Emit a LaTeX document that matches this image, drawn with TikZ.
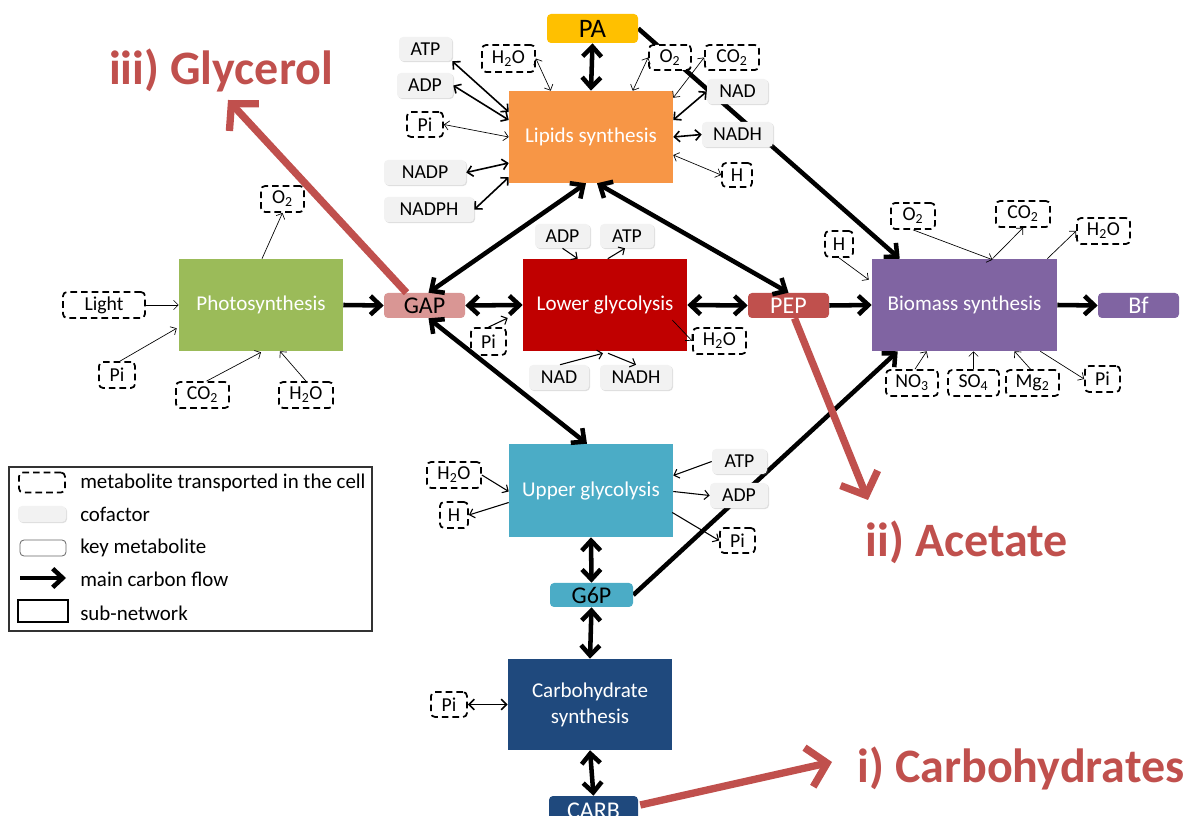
\documentclass[tikz,border=0pt]{standalone}
\usepackage{fontspec}
\setmainfont{Carlito}
\usetikzlibrary{arrows.meta,calc,shadows,backgrounds}
\definecolor{cPA}{HTML}{FFC000}
\definecolor{cLip}{HTML}{F79646}
\definecolor{cPho}{HTML}{9BBB59}
\definecolor{cGAP}{HTML}{D99694}
\definecolor{cLow}{HTML}{C00000}
\definecolor{cPEP}{HTML}{C0504D}
\definecolor{cBio}{HTML}{8064A2}
\definecolor{cUpp}{HTML}{4BACC6}
\definecolor{cCarb}{HTML}{1F497D}
\definecolor{cCof}{HTML}{F2F2F2}
\definecolor{cRed}{HTML}{C0504D}
\tikzset{
  sz/.style 2 args={minimum width=#1*0.75pt, minimum height=#2*0.75pt},
  subnet/.style={inner sep=0pt, text=white, font=\fontsize{15.8}{19.5}\selectfont, align=center},
  keym/.style={rounded corners=3pt, inner sep=0pt, font=\fontsize{18}{20}\selectfont},
  cof/.style={rounded corners=3pt, fill=cCof, inner sep=0pt, font=\fontsize{14.8}{16}\selectfont,
    drop shadow={shadow xshift=0.8pt, shadow yshift=-0.8pt, opacity=0.25}},
  met/.style={rounded corners=3pt, draw=black, line width=1.3pt, dash pattern=on 5pt off 3pt,
    fill=white, inner sep=0pt, font=\fontsize{14.8}{16}\selectfont},
  flowtip/.tip={Straight Barb[length=7.5pt,width=14pt]},
  flow/.style={line width=3.4pt, -flowtip},
  flowd/.style={line width=3.4pt, flowtip-flowtip},
  midtip/.tip={Straight Barb[length=4pt,width=8pt]},
  midarr/.style={line width=1.2pt, -midtip},
  midd/.style={line width=1.2pt, midtip-midtip},
  thintip/.tip={Straight Barb[length=3.5pt,width=7pt]},
  thinarr/.style={line width=0.5pt, -thintip},
  thind/.style={line width=0.5pt, thintip-thintip},
  redarr/.style={line width=5.5pt, draw=cRed, -{Straight Barb[length=14pt,width=30pt]}},
  redlab/.style={text=cRed, font=\fontsize{36}{40}\selectfont\bfseries},
  legtext/.style={anchor=west, font=\fontsize{15.7}{17}\selectfont, inner sep=0pt},
}
\begin{document}
\begin{tikzpicture}[x=0.75pt,y=-0.75pt]
\useasboundingbox (0,0) rectangle (1197,816);
% sub-networks
\node[subnet, sz={164}{92}, fill=cLip] (lip) at (591,137) {Lipids synthesis};
\node[subnet, sz={164}{92}, fill=cPho] (pho) at (261,305) {Photosynthesis};
\node[subnet, sz={164}{92}, fill=cLow] (low) at (605,305) {Lower glycolysis};
\node[subnet, sz={185}{92}, fill=cBio] (bio) at (964.5,305) {Biomass synthesis};
\node[subnet, sz={164}{93}, fill=cUpp] (upp) at (591,490.5) {Upper glycolysis};
\node[subnet, sz={164}{91}, fill=cCarb] (carb) at (590,704.5) {Carbohydrate\\synthesis};
% key metabolites
\node[keym, sz={91}{29}, fill=cPA, font=\fontsize{20}{22}\selectfont] (pa) at (592.5,28.5) {PA};
\node[keym, sz={81}{25}, fill=cGAP] (gap) at (424.5,305.5) {GAP};
\node[keym, sz={81}{25}, fill=cPEP, text=white] (pep) at (788.5,305.5) {PEP};
\node[keym, sz={81}{25}, fill=cBio, text=white] (bf) at (1138.5,305.5) {Bf};
\node[keym, sz={83}{24}, fill=cUpp] (g6p) at (591.5,595) {G6P};
\node[keym, sz={89}{30}, fill=cCarb, text=white] (carbm) at (593.5,811) {CARB};
% lipids cofactors / metabolites
\node[cof, sz={53}{24}] (atpL) at (425.5,49) {ATP};
\node[cof, sz={56}{25}] (adpL) at (425,85.5) {ADP};
\node[met, sz={36}{25}] (piL) at (425,124.5) {Pi};
\node[cof, sz={82}{25}] (nadpL) at (425,172.5) {NADP};
\node[cof, sz={90}{25}] (nadphL) at (429,209.5) {NADPH};
\node[met, sz={53}{27}] (h2oL) at (508.5,58.5) {H\textsubscript{2}O};
\node[met, sz={42}{25}] (o2L) at (670,57.5) {O\textsubscript{2}};
\node[met, sz={54}{25}] (co2L) at (732,57.5) {CO\textsubscript{2}};
\node[cof, sz={61}{25}] (nadL) at (737.5,91.5) {NAD};
\node[cof, sz={71}{25}] (nadhL) at (737.5,134.5) {NADH};
\node[met, sz={30}{24}] (hL) at (737,175) {H};
% photosynthesis
\node[met, sz={43}{26}] (o2P) at (282.5,199) {O\textsubscript{2}};
\node[met, sz={82}{26}] (lightP) at (104,305) {Light};
\node[met, sz={36}{26}] (piP) at (117,375) {Pi};
\node[met, sz={53}{26}] (co2P) at (202.5,395) {CO\textsubscript{2}};
\node[met, sz={54}{26}] (h2oP) at (306,395) {H\textsubscript{2}O};
% lower glycolysis
\node[cof, sz={55}{24}] (adpG) at (562.5,236) {ADP};
\node[cof, sz={54}{24}] (atpG) at (627,236) {ATP};
\node[met, sz={35}{27}] (piG) at (488.5,341.5) {Pi};
\node[cof, sz={60}{25}] (nadG) at (559,377.5) {NAD};
\node[cof, sz={72}{25}] (nadhG) at (636,377.5) {NADH};
\node[met, sz={53}{26}] (h2oG) at (719.5,341) {H\textsubscript{2}O};
% biomass
\node[met, sz={28}{26}] (hB) at (839,244) {H};
\node[met, sz={44}{26}] (o2B) at (913,216) {O\textsubscript{2}};
\node[met, sz={54}{26}] (co2B) at (1023,214) {CO\textsubscript{2}};
\node[met, sz={53}{26}] (h2oB) at (1103.5,231) {H\textsubscript{2}O};
\node[met, sz={52}{26}] (no3B) at (912,383) {NO\textsubscript{3}};
\node[met, sz={51}{26}] (so4B) at (973.5,383) {SO\textsubscript{4}};
\node[met, sz={53}{26}] (mg2B) at (1032.5,383) {Mg\textsubscript{2}};
\node[met, sz={35}{26}] (piB) at (1102.5,379) {Pi};
% upper glycolysis
\node[met, sz={54}{26}] (h2oU) at (454,475) {H\textsubscript{2}O};
\node[met, sz={28}{26}] (hU) at (454,515) {H};
\node[cof, sz={55}{25}] (atpU) at (739.5,461.5) {ATP};
\node[cof, sz={58}{25}] (adpU) at (739,495.5) {ADP};
\node[met, sz={35}{25}] (piU) at (737.5,540.5) {Pi};
% carbohydrate
\node[met, sz={36}{25}] (piC) at (449,704.5) {Pi};

% main carbon flow
\begin{pgfonlayer}{background}
\draw[flow] (pa.east) -- ($(bio.north west)+(28,0)$);
\draw[flow] (g6p.east) -- ($(bio.south west)+(26,0)$);
\end{pgfonlayer}
\draw[flowd] (pa.south) -- (lip.north);
\draw[flowd] ($(lip.south)+(-5,0)$) -- ($(gap.north)+(4,0)$);
\draw[flowd] ($(lip.south)+(6,0)$) -- (pep.north);
\draw[flowd] ($(gap.south)+(4,0)$) -- ($(upp.north)+(-4,0)$);
\draw[flow] (pho.east) -- (gap.west);
\draw[flowd] (gap.east) -- (low.west);
\draw[flowd] (low.east) -- (pep.west);
\draw[flow] (pep.east) -- (bio.west);
\draw[flow] (bio.east) -- (bf.west);
\draw[flowd] (upp.south) -- (g6p.north);
\draw[flowd] (g6p.south) -- (carb.north);
\draw[flowd] (carb.south) -- (carbm.north);

% lipids
\draw[midd] (atpL.south east) -- ($(lip.west)+(0,-25)$);
\draw[midd] (adpL.east) -- ($(lip.west)+(0,-17)$);
\draw[thind] (piL.east) -- (lip.west);
\draw[midd] (nadpL.east) -- ($(lip.west)+(0,26)$);
\draw[midd] (nadphL.east) -- ($(lip.south west)+(0,-6)$);
\draw[thind] (h2oL.east) -- ($(lip.north west)+(42,0)$);
\draw[thind] (o2L.west) -- ($(lip.north west)+(124,0)$);
\draw[thind] (co2L.west) -- ($(lip.north east)+(0,7)$);
\draw[midd] (nadL.west) -- ($(lip.east)+(0,-17)$);
\draw[midd] (nadhL.west) -- (lip.east);
\draw[thind] (hL.west) -- ($(lip.east)+(0,18)$);

% photosynthesis
\draw[thinarr] ($(pho.north)+(1,0)$) -- (o2P.south);
\draw[thinarr] (lightP.east) -- (pho.west);
\draw[thinarr] ($(piP.north)+(3,0)$) -- ($(pho.south west)+(-2,-23)$);
\draw[thinarr] ($(co2P.north)+(4,0)$) -- ($(pho.south)+(0,1)$);
\draw[thinarr] (h2oP.north) -- ($(pho.south)+(19,0)$);

% lower glycolysis
\draw[thinarr, line width=0.8pt] (adpG.south) -- ($(low.north west)+(55,0)$);
\draw[thinarr, line width=0.8pt] ($(low.north west)+(85,0)$) -- ($(atpG.south)+(-2,0)$);
\draw[thinarr, line width=0.8pt] (piG.north) -- ($(low.west)+(-15,13)$);
\draw[thinarr, line width=0.8pt] ($(nadG.north)+(1,0)$) -- ($(low.south)+(-2,2)$);
\draw[thinarr, line width=0.8pt] ($(low.south)+(3,2)$) -- (nadhG.north);
\draw[thinarr] ($(low.east)+(-15,15)$) -- (h2oG.west);

% biomass
\draw[thinarr] (hB.south) -- ($(bio.north west)+(-3,21)$);
\draw[thinarr] (o2B.south) -- ($(bio.north)+(28,1)$);
\draw[thinarr] ($(bio.north)+(28,0)$) -- (co2B.south);
\draw[thinarr] ($(bio.north east)+(-10,0)$) -- (h2oB.west);
\draw[thinarr] ($(no3B.north)+(3,0)$) -- ($(bio.south west)+(55,0)$);
\draw[thinarr] (so4B.north) -- ($(bio.south)+(9,0)$);
\draw[thinarr] ($(mg2B.north)+(-2,0)$) -- ($(bio.south)+(50,0)$);
\draw[thinarr] ($(bio.south east)+(-17,0)$) -- (piB.west);

% upper glycolysis
\draw[thinarr, line width=0.8pt] (h2oU.east) -- ($(upp.west)+(0,1)$);
\draw[thinarr, line width=0.8pt] ($(upp.west)+(0,12)$) -- (hU.east);
\draw[thinarr, line width=0.8pt] (atpU.west) -- ($(upp.east)+(0,-15)$);
\draw[thinarr, line width=0.8pt] ($(upp.east)+(0,1)$) -- (adpU.west);
\draw[thinarr, line width=0.8pt] ($(upp.east)+(-1,22)$) -- (piU.west);

% carbohydrate
\draw[midd] (piC.east) -- (carb.west);

% product arrows
\coordinate (glycTip) at (228,100);
\coordinate (acTip) at (868,500);
\coordinate (chTip) at (832,762);
\draw[redarr] ($(gap.north)+(-18,0)$) -- (glycTip);
\draw[redarr] ($(pep.south)+(6,0)$) -- (acTip);
\draw[redarr] ($(carbm.east)+(2,-6)$) -- (chTip);
\node[redlab] (glyc) at (221,70) {iii) Glycerol};
\node[redlab] (acet) at (967,542) {ii) Acetate};
\node[redlab] (carbo) at (1021,768) {i) Carbohydrates};

% legend
\node[draw=black!80, line width=0.8pt, inner sep=0pt, sz={363}{164}] (legend) at (190.5,549) {};
\node[met, sz={46}{20}] (lgMet) at (42,482.5) {};
\node[cof, sz={48}{16}] (lgCof) at (42,514) {};
\node[keym, sz={46}{16}, draw=black!60, line width=0.6pt, fill=white] (lgKey) at (43,548) {};
\coordinate (lgA1) at (20,578);
\coordinate (lgA2) at (66,578);
\draw[flow] (lgA1) -- (lgA2);
\node[draw=black, line width=1.1pt, sz={50}{22}, inner sep=0pt] (lgSub) at (43,611) {};
\node[legtext] (lt1) at (80,483) {metabolite transported in the cell};
\node[legtext] (lt2) at (80,514) {cofactor};
\node[legtext] (lt3) at (80,548) {key metabolite};
\node[legtext] (lt4) at (80,579) {main carbon flow};
\node[legtext] (lt5) at (80,613) {sub-network};
\end{tikzpicture}
\end{document}
